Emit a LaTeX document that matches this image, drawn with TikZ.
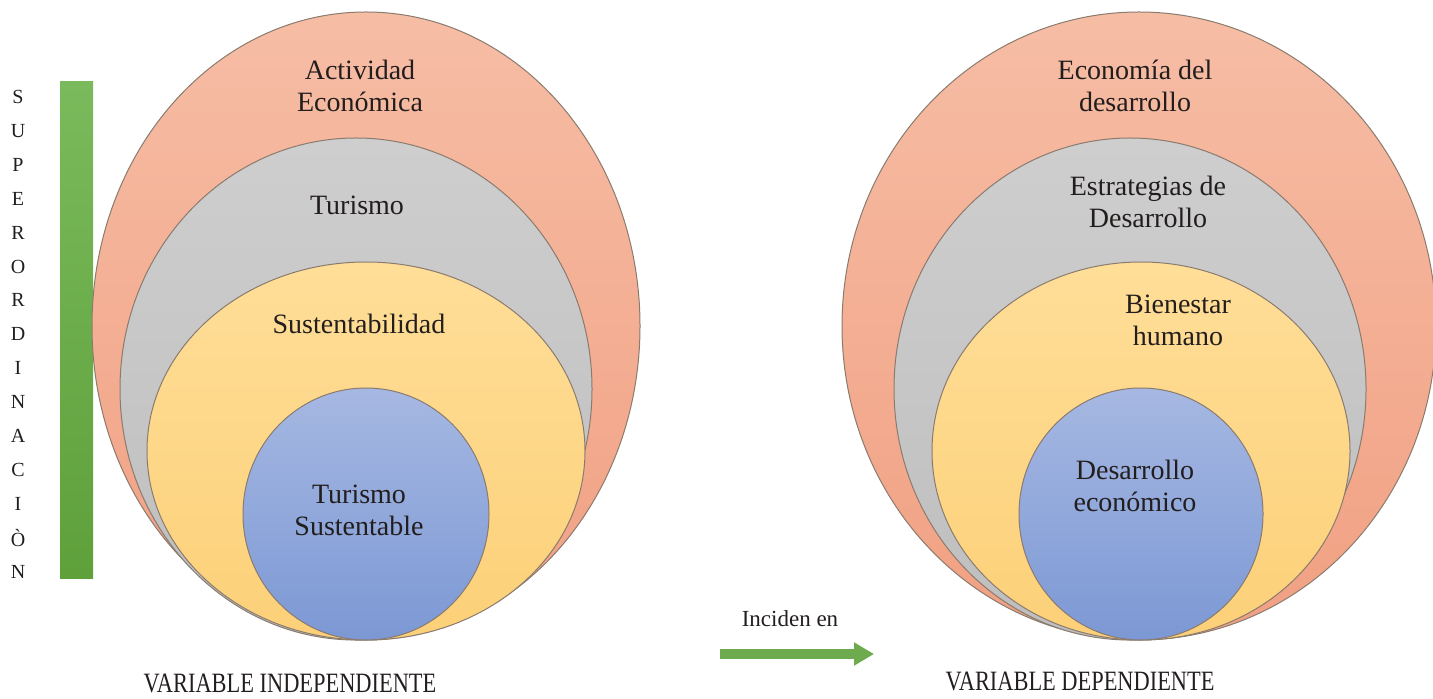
\documentclass[tikz,border=0pt]{standalone}
\usepackage{fontspec}
\setmainfont{Liberation Serif}
\newfontfamily\narrowserif[FakeStretch=0.8]{Liberation Serif}
\usetikzlibrary{arrows.meta}

\definecolor{rimC}{RGB}{138,123,110}
\definecolor{pinkTop}{RGB}{246,189,165}
\definecolor{pinkBot}{RGB}{241,160,130}
\definecolor{greyTop}{RGB}{206,206,206}
\definecolor{greyBot}{RGB}{190,190,190}
\definecolor{yelTop}{RGB}{255,222,152}
\definecolor{yelBot}{RGB}{252,208,120}
\definecolor{bluTop}{RGB}{166,184,226}
\definecolor{bluBot}{RGB}{124,152,212}
\definecolor{barTop}{RGB}{122,186,92}
\definecolor{barBot}{RGB}{94,160,58}
\definecolor{inkC}{RGB}{35,30,30}

\tikzset{
  ringpink/.style={draw=rimC,line width=0.5pt,top color=pinkTop,bottom color=pinkBot},
  ringgrey/.style={draw=rimC,line width=0.5pt,top color=greyTop,bottom color=greyBot},
  ringyel/.style={draw=rimC,line width=0.5pt,top color=yelTop,bottom color=yelBot},
  ringblue/.style={draw=rimC,line width=0.5pt,top color=bluTop,bottom color=bluBot},
  ringtext/.style={align=center,text=inkC,inner sep=0.75pt,font=\fontsize{14}{16}\selectfont},
  vartext/.style={text=inkC,inner sep=0.75pt,font=\narrowserif\fontsize{14}{16}\selectfont},
  lettertext/.style={text=inkC,inner sep=0.75pt,font=\fontsize{10}{12}\selectfont},
  greenarrow/.style={draw=barBot!90!white,line width=5pt,-{Triangle[width=11pt,length=10pt]}}
}

\begin{document}
\begin{tikzpicture}[x=0.5pt,y=0.5pt,yscale=-1,xscale=1]
\useasboundingbox (0,0) rectangle (1433,699);

%Shape: Rectangle (green bar)
\shade [top color=barTop,bottom color=barBot] (60,82) rectangle (93,578) ;
% Vertical letters
\foreach \l [count=\i from 0] in {S,U,P,E,R,O,R,D,I,N,A,C,I,Ò,N}
  \node [lettertext] (sup\i) at (18,97+33.9*\i) {\l};

%Shape: Ellipse (left, outer)
\draw [ringpink] (366,326) ellipse (274 and 314) ;
%Shape: Ellipse
\draw [ringgrey] (356,389) ellipse (236 and 251) ;
%Shape: Ellipse
\draw [ringyel] (366,451) ellipse (219 and 189) ;
%Shape: Ellipse
\draw [ringblue] (366,514) ellipse (123 and 126) ;

%Shape: Ellipse (right, outer)
\draw [ringpink] (1139,326) ellipse (297 and 314) ;
%Shape: Ellipse
\draw [ringgrey] (1130,389) ellipse (236 and 251) ;
%Shape: Ellipse
\draw [ringyel] (1141,451) ellipse (209 and 189) ;
%Shape: Ellipse
\draw [ringblue] (1141,514) ellipse (122 and 126) ;

% Text Node
\node [ringtext] (actEco) at (360,86) {Actividad\\Económica};
% Text Node
\node [ringtext] (turismo) at (357,205) {Turismo};
% Text Node
\node [ringtext] (sustent) at (359,324) {Sustentabilidad};
% Text Node
\node [ringtext] (turSust) at (359,510) {Turismo\\Sustentable};

% Text Node
\node [ringtext] (ecoDes) at (1135,86) {Economía del\\desarrollo};
% Text Node
\node [ringtext] (estrat) at (1148,202) {Estrategias de\\Desarrollo};
% Text Node
\node [ringtext] (bienestar) at (1178,320) {Bienestar\\humano};
% Text Node
\node [ringtext] (desEco) at (1135,486) {Desarrollo\\económico};

% Text Node
\node [vartext] (varInd) at (290,683) {VARIABLE INDEPENDIENTE};
% Text Node
\node [vartext] (varDep) at (1080,681) {VARIABLE DEPENDIENTE};

% Arrow
\node [lettertext,font=\fontsize{11.5}{13}\selectfont] (incide) at (790,619) {Inciden en};
\coordinate (arrS) at (720,654);
\coordinate (arrE) at (874,654);
\draw [greenarrow] (arrS) -- (arrE) ;

\end{tikzpicture}
\end{document}
